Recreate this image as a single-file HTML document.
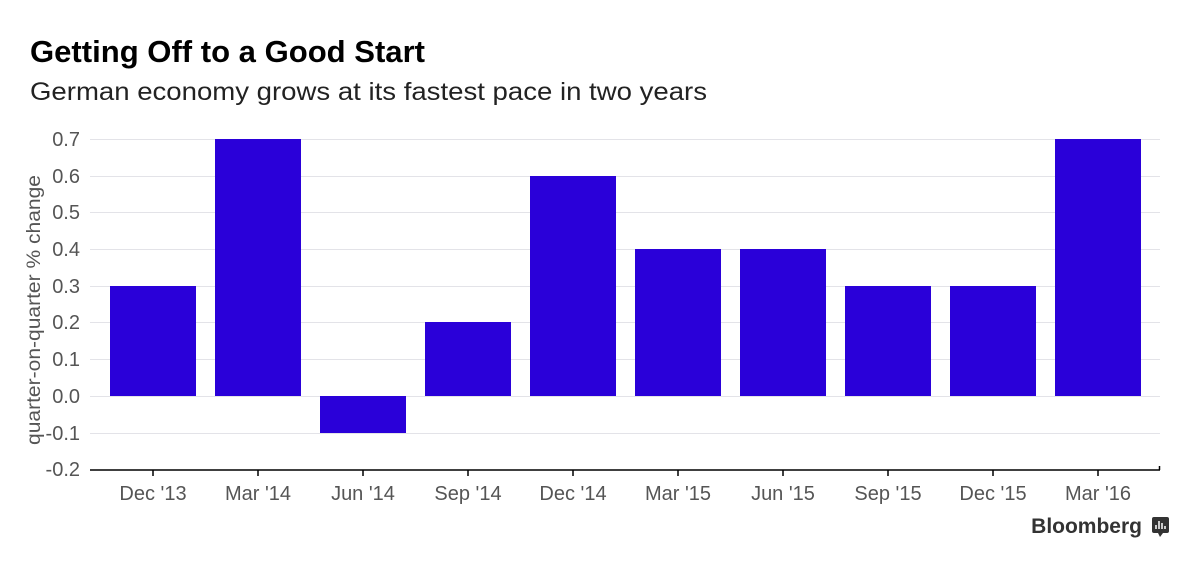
<!DOCTYPE html>
<html><head><style>
body{margin:0;width:1200px;height:570px;background:#fff;overflow:hidden}
svg{display:block}
</style></head><body>
<svg width="1200" height="570" xmlns="http://www.w3.org/2000/svg" font-family="Liberation Sans, sans-serif">
<text x="30" y="62" font-size="31" font-weight="bold" fill="#000" textLength="395" lengthAdjust="spacingAndGlyphs">Getting Off to a Good Start</text>
<text x="30" y="100" font-size="25" fill="#222" textLength="677" lengthAdjust="spacingAndGlyphs">German economy grows at its fastest pace in two years</text>
<g stroke="#e3e3e8" stroke-width="1">
<line x1="90" x2="1160" y1="139.5" y2="139.5"/>
<line x1="90" x2="1160" y1="176.5" y2="176.5"/>
<line x1="90" x2="1160" y1="212.5" y2="212.5"/>
<line x1="90" x2="1160" y1="249.5" y2="249.5"/>
<line x1="90" x2="1160" y1="286.5" y2="286.5"/>
<line x1="90" x2="1160" y1="322.5" y2="322.5"/>
<line x1="90" x2="1160" y1="359.5" y2="359.5"/>
<line x1="90" x2="1160" y1="396.5" y2="396.5"/>
<line x1="90" x2="1160" y1="433.5" y2="433.5"/>
</g>
<g font-size="20" fill="#555" text-anchor="end">
<text x="80" y="146">0.7</text>
<text x="80" y="183">0.6</text>
<text x="80" y="219">0.5</text>
<text x="80" y="256">0.4</text>
<text x="80" y="293">0.3</text>
<text x="80" y="329">0.2</text>
<text x="80" y="366">0.1</text>
<text x="80" y="403">0.0</text>
<text x="80" y="440">-0.1</text>
<text x="80" y="476">-0.2</text>
</g>
<text transform="translate(40,310) rotate(-90)" font-size="19" fill="#555" text-anchor="middle" textLength="270" lengthAdjust="spacingAndGlyphs">quarter-on-quarter % change</text>
<g fill="#2a00d9">
<rect x="110" y="286" width="86" height="110"/>
<rect x="215" y="139" width="86" height="257"/>
<rect x="320" y="396" width="86" height="37"/>
<rect x="425" y="322" width="86" height="74"/>
<rect x="530" y="176" width="86" height="220"/>
<rect x="635" y="249" width="86" height="147"/>
<rect x="740" y="249" width="86" height="147"/>
<rect x="845" y="286" width="86" height="110"/>
<rect x="950" y="286" width="86" height="110"/>
<rect x="1055" y="139" width="86" height="257"/>
</g>
<g stroke="#000" stroke-width="1.5">
<line x1="90" x2="1160" y1="470" y2="470"/>
<line x1="1159.5" x2="1159.5" y1="470" y2="466"/>
<line x1="153" x2="153" y1="470" y2="476"/>
<line x1="258" x2="258" y1="470" y2="476"/>
<line x1="363" x2="363" y1="470" y2="476"/>
<line x1="468" x2="468" y1="470" y2="476"/>
<line x1="573" x2="573" y1="470" y2="476"/>
<line x1="678" x2="678" y1="470" y2="476"/>
<line x1="783" x2="783" y1="470" y2="476"/>
<line x1="888" x2="888" y1="470" y2="476"/>
<line x1="993" x2="993" y1="470" y2="476"/>
<line x1="1098" x2="1098" y1="470" y2="476"/>
</g>
<g font-size="20" fill="#555" text-anchor="middle">
<text x="153" y="500">Dec '13</text>
<text x="258" y="500">Mar '14</text>
<text x="363" y="500">Jun '14</text>
<text x="468" y="500">Sep '14</text>
<text x="573" y="500">Dec '14</text>
<text x="678" y="500">Mar '15</text>
<text x="783" y="500">Jun '15</text>
<text x="888" y="500">Sep '15</text>
<text x="993" y="500">Dec '15</text>
<text x="1098" y="500">Mar '16</text>
</g>
<text x="1142" y="533" font-size="21" font-weight="bold" fill="#333" text-anchor="end">Bloomberg</text>
<rect x="1152" y="517" width="17" height="16" rx="2" fill="#333"/>
<polygon points="1158,533 1163,533 1160,537" fill="#333"/>
<g stroke="#fff" stroke-width="1.5"><line x1="1156" x2="1156" y1="529" y2="525"/><line x1="1159" x2="1159" y1="529" y2="521"/><line x1="1162" x2="1162" y1="529" y2="523"/><line x1="1165" x2="1165" y1="529" y2="526"/></g>
</svg>
</body></html>
